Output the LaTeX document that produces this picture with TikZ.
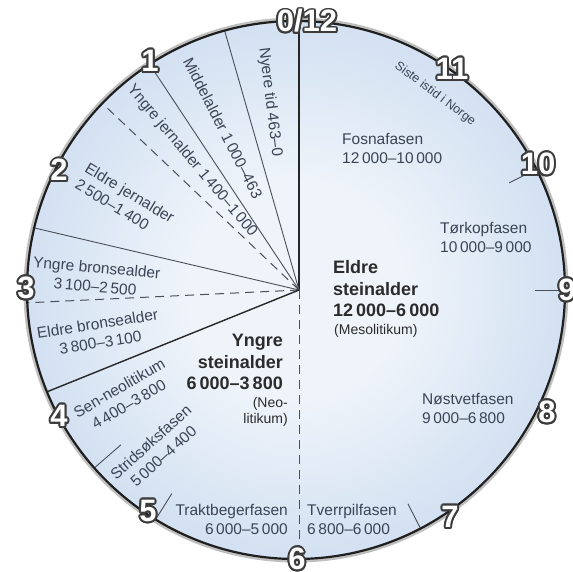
\documentclass[tikz,border=0pt]{standalone}
\usepackage{fontspec}
\setmainfont{Liberation Sans}
\usepackage{contour}
\usetikzlibrary{calc}
\contourlength{1.9pt}
\contournumber{16}
\definecolor{cA}{HTML}{EFF4FA}
\definecolor{cB}{HTML}{C9DAEF}
\definecolor{cC}{HTML}{9ABAE1}
\definecolor{labcol}{HTML}{3A4455}
\definecolor{bigcol}{HTML}{2B2B2B}
\definecolor{numedge}{HTML}{3C3C3C}
\definecolor{linecol}{HTML}{4A4F58}
\pgfdeclareradialshading{discshade}{\pgfpoint{0bp}{0bp}}{color(0bp)=(cA); color(10bp)=(cA); color(30bp)=(cB); color(50bp)=(cC)}
\tikzset{
  rim/.style={draw=black!88, line width=2.2pt},
  seg/.style={draw=linecol, line width=0.9pt},
  segdash/.style={draw=linecol, line width=1pt, dash pattern=on 9pt off 6pt},
  segbold/.style={draw=black!85, line width=1.4pt},
  lab/.style={font=\fontsize{15.5}{19}\selectfont, text=labcol, inner sep=0pt},
  smalllab/.style={font=\fontsize{12.5}{15}\selectfont, text=labcol, inner sep=0pt},
  biglab/.style={font=\bfseries\fontsize{18}{21.5}\selectfont, text=bigcol, inner sep=0pt},
  paren/.style={font=\fontsize{14}{16.5}\selectfont, text=bigcol, inner sep=0pt},
  num/.style={font=\bfseries\fontsize{31}{31}\selectfont, text=white, inner sep=0pt}
}
\begin{document}
\begin{tikzpicture}[x=1pt,y=-1pt]
\useasboundingbox (0,0) rectangle (572,572);
\coordinate (O) at (296,290);
\coordinate (P) at (299,290);
% disc
\draw[black!25, line width=5pt] (O) circle (270);
\shade[shading=discshade] (O) circle (269);
% radial lines, clipped to disc
\begin{scope}
  \clip (O) circle (269);
  \draw[segbold] (P) -- ++(-90:300);
  \draw[seg] (P) -- ++(-106:300);
  \draw[seg] (P) -- ++(-123.5:300);
  \draw[segdash] (P) -- ++(-136.5:300);
  \draw[seg] (P) -- ++(-166.8:300);
  \draw[segdash] (P) -- ++(-182.7:300);
  \draw[segbold] (P) -- ++(-202:300);
  \draw[segdash] (P) -- ++(-270:300);
  % ticks
  \draw[seg] ($(P)+(-221:236)$) -- ++(-221:60);
  \draw[seg] ($(P)+(-238:240)$) -- ++(-238:60);
  \draw[seg] ($(P)+(-297:240)$) -- ++(-297:60);
  \draw[seg] ($(P)+(0:236)$) -- ++(0:60);
  \draw[seg] ($(P)+(-27:236)$) -- ++(-27:60);
\end{scope}
\draw[rim] (O) circle (269);
% sector labels
\node[lab, rotate=-83] (nyere) at (270,102) {Nyere tid 463–0};
\node[lab, rotate=-63] (midd) at (223,128) {Middelalder 1\,000–463};
\node[lab, rotate=-50] (yjern) at (192,161) {Yngre jernalder 1\,400–1\,000};
\node[lab, rotate=-31, align=left] (ejern) at (125,201) {Eldre jernalder\\2\,500–1\,400};
\node[lab, rotate=-5, align=center] (ybron) at (96,277) {Yngre bronsealder\\3\,100–2\,500};
\node[lab, rotate=9, align=center] (ebron) at (99,333) {Eldre bronsealder\\3\,800–3\,100};
\node[lab, rotate=30, align=center] (senneo) at (124,396) {Sen-neolitikum\\4\,400–3\,800};
\node[lab, rotate=42, align=center] (strid) at (157,449) {Stridsøksfasen\\5\,000–4\,400};
\node[lab, anchor=east, align=right] (trakt) at (288,519) {Traktbegerfasen\\6\,000–5\,000};
\node[lab, anchor=west, align=left] (tverr) at (307,519) {Tverrpilfasen\\6\,800–6\,000};
\node[lab, anchor=west, align=left] (nost) at (422,408) {Nøstvetfasen\\9\,000–6\,800};
\node[lab, anchor=west, align=left] (tork) at (440,237) {Tørkopfasen\\10\,000–9\,000};
\node[lab, anchor=west, align=left] (fosna) at (342,148) {Fosnafasen\\12\,000–10\,000};
\node[smalllab, rotate=-37] (siste) at (435,94) {Siste istid i Norge};
% main periods
\node[biglab, anchor=west, align=left] (eldst) at (333,289) {Eldre\\steinalder\\12\,000–6\,000};
\node[paren, anchor=west] (meso) at (334,331) {(Mesolitikum)};
\node[biglab, anchor=east, align=right] (yngst) at (283,362) {Yngre\\steinalder\\6\,000–3\,800};
\node[paren, anchor=east, align=right] (neo) at (288,412) {(Neo-\\litikum)};
% clock numbers
\node[num] (n0) at (307,22) {\contour{numedge}{0/12}};
\node[num] (n1) at (150,62) {\contour{numedge}{1}};
\node[num] (n2) at (59,171) {\contour{numedge}{2}};
\node[num] (n3) at (26,289) {\contour{numedge}{3}};
\node[num] (n4) at (59,417) {\contour{numedge}{4}};
\node[num] (n5) at (148,512) {\contour{numedge}{5}};
\node[num] (n6) at (297,560) {\contour{numedge}{6}};
\node[num] (n7) at (450,518) {\contour{numedge}{7}};
\node[num] (n8) at (547,413) {\contour{numedge}{8}};
\node[num] (n9) at (567,291) {\contour{numedge}{9}};
\node[num] (n10) at (538,165) {\contour{numedge}{10}};
\node[num] (n11) at (452,70) {\contour{numedge}{11}};
\end{tikzpicture}
\end{document}
